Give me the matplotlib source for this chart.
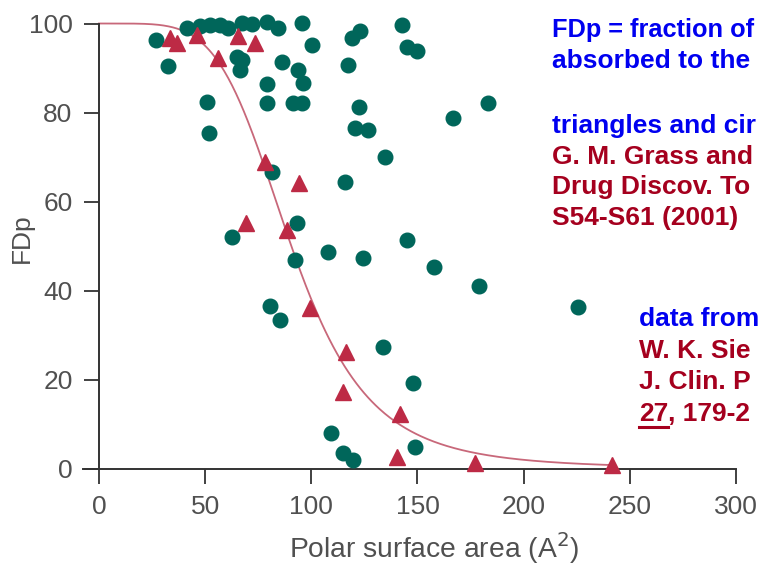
import numpy as np
import matplotlib
matplotlib.use("Agg")
import matplotlib.pyplot as plt
from matplotlib.lines import Line2D

# ---- data ----
circle_psa = [26.8, 32.5, 41.4, 47.6, 52.3, 57.0, 60.7, 67.3, 72.0, 79.1, 84.3, 95.6,
              65.0, 67.3, 66.4, 86.2, 93.7, 96.0, 79.1, 79.1, 91.3, 95.6, 50.8, 51.8,
              100.3, 119.1, 122.9, 117.2, 142.7, 145.0, 149.7, 122.4, 120.5, 126.6,
              183.1, 166.7, 134.7, 81.5, 115.8, 93.2, 62.6, 92.3, 107.8, 124.3, 145.0,
              157.7, 178.9, 225.5, 80.5, 85.2, 133.7, 147.8, 109.2, 114.9, 119.6, 148.8]
circle_fdp = [96.3, 90.4, 99.0, 99.4, 99.7, 99.7, 99.0, 100.1, 99.9, 100.3, 99.0, 100.1,
              92.5, 91.8, 89.6, 91.3, 89.6, 86.6, 86.4, 82.1, 82.1, 82.1, 82.3, 75.4,
              95.2, 96.7, 98.3, 90.7, 99.7, 94.7, 93.8, 81.2, 76.5, 76.1,
              82.1, 78.8, 70.0, 66.6, 64.4, 55.2, 52.0, 46.9, 48.7, 47.3, 51.3,
              45.3, 41.0, 36.3, 36.5, 33.4, 27.3, 19.2, 8.0, 3.5, 1.9, 4.8]

tri_psa = [33.4, 36.7, 46.1, 56.0, 65.4, 73.4, 78.2, 94.2, 69.2, 88.5, 99.3,
           116.3, 114.9, 141.7, 140.3, 177.0, 241.5]
tri_fdp = [96.7, 95.6, 97.4, 92.2, 97.2, 95.6, 68.9, 64.2, 55.2, 53.6, 36.1,
           26.2, 17.2, 12.2, 2.6, 1.2, 0.8]

# sigmoid fit curve parameters
fit_psa50 = 90.6
fit_hill = 4.95
fit_range = (0.0, 243.0)

x_ticks = [0, 50, 100, 150, 200, 250, 300]
y_ticks = [0, 20, 40, 60, 80, 100]

# annotation text, as much as is visible inside the reference frame
notes_1 = [("FDp = fraction of", "blue"),
           ("absorbed to the", "blue")]
notes_2 = [("triangles and cir", "blue"),
           ("G. M. Grass and", "red"),
           ("Drug Discov. To", "red"),
           ("S54-S61 (2001)", "red")]
notes_3 = [("data from", "blue"),
           ("W. K. Sie", "red"),
           ("J. Clin. P", "red")]
ref_volume = "27"
ref_rest = ", 179-2"

# ---- styling ----
W, H = 760, 570
TEAL = "#00665a"
CRIMSON = "#bd2a45"
CURVE = "#c8687a"
BLUE = "#0000f0"
DARKRED = "#a5001e"
GRAY = "#505050"
FONT = "Liberation Sans"
colors = {"blue": BLUE, "red": DARKRED}

plt.rcParams["font.family"] = [FONT, "DejaVu Sans"]

fig = plt.figure(figsize=(W / 100, H / 100), dpi=100)
ax = fig.add_axes([83 / W, (H - 468.5) / H, (736 - 83) / W, (468.5 - 23.5) / H])
ax.set_xlim(-7.5, 300)
ax.set_ylim(0, 100)

# curve
xc = np.linspace(fit_range[0], fit_range[1], 400)
yc = 100.0 / (1.0 + (xc / fit_psa50) ** fit_hill)
ax.plot(xc, yc, color=CURVE, lw=1.3, zorder=2, clip_on=False)

ax.plot(circle_psa, circle_fdp, "o", ms=10.5, color=TEAL, mec=TEAL,
        zorder=3, clip_on=False, ls="none")
ax.plot(tri_psa, tri_fdp, "^", ms=11.5, color=CRIMSON, mec=CRIMSON,
        zorder=4, clip_on=False, ls="none")

for s in ["top", "right"]:
    ax.spines[s].set_visible(False)
ax.spines["left"].set_position(("data", 0))
ax.spines["left"].set_bounds(0, 100)
for s in ["left", "bottom"]:
    ax.spines[s].set_color("#333333")
    ax.spines[s].set_linewidth(1.4)

ax.set_xticks(x_ticks)
ax.set_yticks(y_ticks)
ax.tick_params(axis="both", direction="out", length=11, width=1.3,
               color="#333333", labelcolor=GRAY, labelsize=19, pad=8)

fig.text(434 / W, 1 - 548 / H, "Polar surface area (A$^2$)", fontsize=20.3,
         color=GRAY, ha="center", va="center")
fig.text(22 / W, 1 - 238 / H, "FDp", rotation=90, fontsize=19, color=GRAY,
         ha="center", va="center")

def put(x, y, s, c, size=19, **kw):
    return fig.text(x / W, 1 - y / H, s, color=c, fontsize=size, fontweight="bold",
                    ha="left", va="baseline", **kw)

y = 37
for i, (s, c) in enumerate(notes_1):
    put(552, y, s, colors[c], size=18.3 if i == 0 else 19)
    y += 31
y = 133
for s, c in notes_2:
    put(552, y, s, colors[c])
    y += 30.5
y = 326
for s, c in notes_3:
    put(639, y, s, colors[c])
    y += 31.7

t27 = put(639, 421, ref_volume, DARKRED)
fig.canvas.draw()
bb = t27.get_window_extent(fig.canvas.get_renderer())
put(639 + bb.width, 421, ref_rest, DARKRED)
fig.add_artist(Line2D([639 / W, (639 + bb.width) / W], [1 - 427 / H, 1 - 427 / H],
                      transform=fig.transFigure, color=DARKRED, lw=2.2))

fig.savefig("out.png", dpi=100)
